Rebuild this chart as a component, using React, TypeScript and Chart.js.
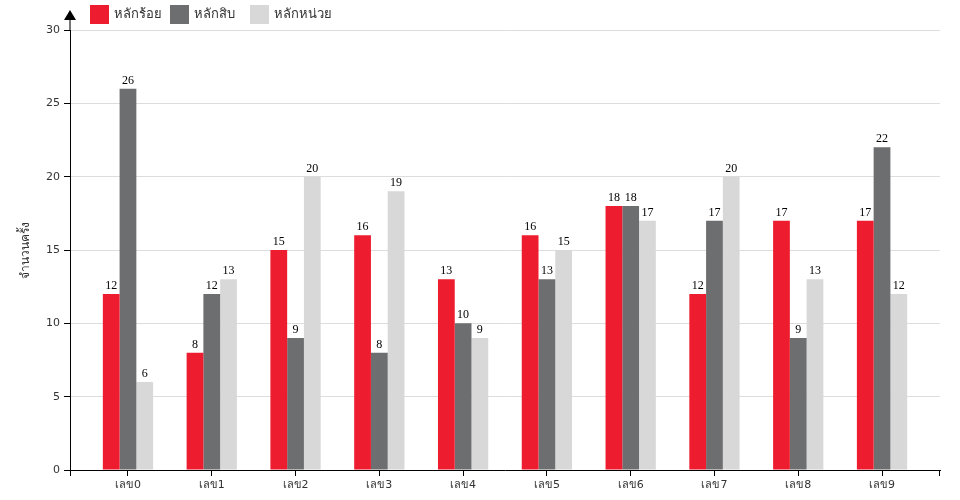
import React, { useEffect, useRef } from "react";
import { Chart, registerables } from "chart.js";

Chart.register(...registerables);

const categories = ["เลข0", "เลข1", "เลข2", "เลข3", "เลข4", "เลข5", "เลข6", "เลข7", "เลข8", "เลข9"];
const seriesNames = ["หลักร้อย", "หลักสิบ", "หลักหน่วย"];
const hundreds = [12, 8, 15, 16, 13, 16, 18, 12, 17, 17];
const tens = [26, 12, 9, 8, 10, 13, 18, 17, 9, 22];
const units = [6, 13, 20, 19, 9, 15, 17, 20, 13, 12];
const yTicks = [0, 5, 10, 15, 20, 25, 30];
const yTitle = "จำนวนครั้ง";
const colors = ["#ed1c2e", "#6d6e70", "#d8d8d8"];

const SANS = "'DejaVu Sans', 'Noto Sans', sans-serif";
const SERIF = "'Liberation Serif', 'DejaVu Serif', serif";

export default function App() {
  const ref = useRef<HTMLCanvasElement | null>(null);

  useEffect(() => {
    document.body.style.margin = "0";
    const canvas = ref.current!;
    const series = [hundreds, tens, units];

    const overlay = {
      id: "overlay",
      afterDraw(chart: any) {
        const ctx = chart.ctx as CanvasRenderingContext2D;
        const area = chart.chartArea;
        ctx.save();
        // data labels
        ctx.font = `12px ${SERIF}`;
        ctx.fillStyle = "#000";
        ctx.textAlign = "center";
        ctx.textBaseline = "alphabetic";
        chart.data.datasets.forEach((ds: any, di: number) => {
          const meta = chart.getDatasetMeta(di);
          meta.data.forEach((el: any, i: number) => {
            ctx.fillText(String(series[di][i]), el.x, el.y - 5);
          });
        });
        // end ticks on x axis
        ctx.strokeStyle = "#000";
        ctx.lineWidth = 1;
        ctx.beginPath();
        ctx.moveTo(Math.round(area.left) + 0.5, area.bottom);
        ctx.lineTo(Math.round(area.left) + 0.5, area.bottom + 6);
        ctx.moveTo(Math.round(area.right) - 0.5, area.bottom);
        ctx.lineTo(Math.round(area.right) - 0.5, area.bottom + 6);
        ctx.stroke();
        // arrow on y axis
        const ax = Math.round(area.left);
        ctx.strokeStyle = "#777";
        ctx.lineWidth = 2;
        ctx.beginPath();
        ctx.moveTo(ax, area.top);
        ctx.lineTo(ax, area.top - 12);
        ctx.stroke();
        ctx.fillStyle = "#000";
        ctx.beginPath();
        ctx.moveTo(ax, area.top - 20);
        ctx.lineTo(ax - 6, area.top - 10);
        ctx.lineTo(ax + 6, area.top - 10);
        ctx.closePath();
        ctx.fill();
        // legend
        const lx = [90, 170, 250];
        ctx.font = `13px ${SANS}`;
        ctx.textAlign = "left";
        ctx.textBaseline = "middle";
        seriesNames.forEach((name, i) => {
          ctx.fillStyle = colors[i];
          ctx.fillRect(lx[i], 5, 19, 19);
          ctx.fillStyle = "#333";
          ctx.fillText(name, lx[i] + 24, 14.5);
        });
        // y title
        ctx.save();
        ctx.translate(26, (area.top + area.bottom) / 2);
        ctx.rotate(-Math.PI / 2);
        ctx.font = `12px ${SANS}`;
        ctx.fillStyle = "#333";
        ctx.textAlign = "center";
        ctx.textBaseline = "middle";
        ctx.fillText(yTitle, 0, 0);
        ctx.restore();
        ctx.restore();
      },
    };

    const pad = 0.692;
    const chart = new Chart(canvas, {
      type: "bar",
      data: {
        datasets: seriesNames.map((name, di) => ({
          label: name,
          data: series[di].map((v, i) => ({ x: i, y: v })),
          backgroundColor: colors[di],
          borderWidth: 0,
          categoryPercentage: 0.6,
          barPercentage: 1.0,
        })),
      },
      options: {
        responsive: false,
        animation: false,
        devicePixelRatio: 1,
        layout: { padding: { left: 0, right: 20, top: 30, bottom: 0 } },
        plugins: { legend: { display: false }, tooltip: { enabled: false } },
        scales: {
          x: {
            type: "linear",
            min: -pad,
            max: categories.length - 1 + pad,
            offset: false,
            afterBuildTicks: (scale: any) => {
              scale.ticks = categories.map((_, i) => ({ value: i }));
            },
            afterFit: (scale: any) => {
              scale.height = 30;
            },
            grid: {
              drawOnChartArea: false,
              drawTicks: true,
              tickLength: 6,
              tickColor: "#000",
              offset: false,
            },
            border: { display: true, color: "#000", width: 1 },
            ticks: {
              autoSkip: false,
              maxRotation: 0,
              padding: 3,
              color: "#333",
              font: { family: SANS, size: 11 },
              callback: (v: any) => categories[Math.round(Number(v))] ?? "",
            },
          },
          y: {
            type: "linear",
            min: 0,
            max: 30,
            afterBuildTicks: (scale: any) => {
              scale.ticks = yTicks.map((v) => ({ value: v }));
            },
            afterFit: (scale: any) => {
              scale.width = 70;
            },
            grid: {
              color: "#dddddd",
              tickColor: "#000",
              tickLength: 6,
              drawTicks: true,
            },
            border: { display: true, color: "#000", width: 1 },
            ticks: {
              padding: 4,
              color: "#333",
              font: { family: SANS, size: 11 },
            },
          },
        },
      },
      plugins: [overlay],
    } as any);

    return () => chart.destroy();
  }, []);

  return (
    <div style={{ width: 960, height: 500 }}>
      <canvas ref={ref} width={960} height={500} style={{ display: "block", width: 960, height: 500 }} />
    </div>
  );
}
